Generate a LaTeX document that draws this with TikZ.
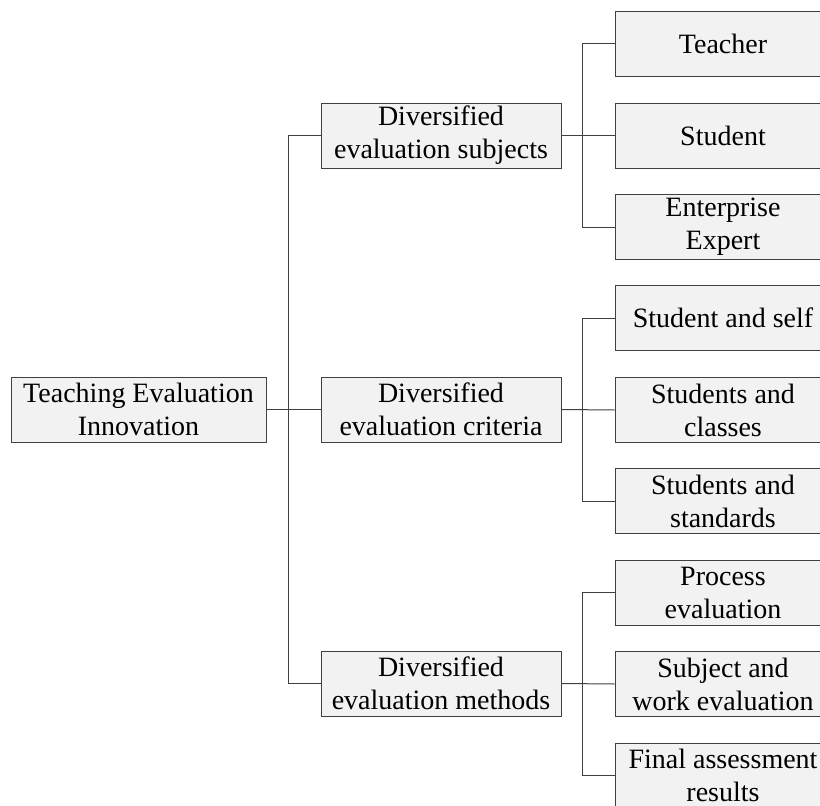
\documentclass[tikz,border=0pt]{standalone}
\usepackage{fontspec}
\setmainfont{Liberation Serif}
\definecolor{boxfill}{HTML}{F2F2F2}
\definecolor{edge}{HTML}{404040}
\begin{document}
\begin{tikzpicture}[x=1pt,y=-1pt,
  box/.style={draw=edge, fill=boxfill, line width=1pt, rectangle, minimum height=65pt,
    inner sep=0pt, align=center, font=\fontsize{28}{33}\selectfont},
  rootbox/.style={box, minimum width=255pt},
  midbox/.style={box, minimum width=240pt},
  leafbox/.style={box, minimum width=216pt},
  conn/.style={draw=edge, line width=1pt}]
\useasboundingbox (0,0) rectangle (820,806);
\node[rootbox] (root) at (138.5,409.5) {Teaching Evaluation\\Innovation};
\node[midbox] (m1) at (441,135.5) {Diversified\\evaluation subjects};
\node[midbox] (m2) at (441,409.5) {Diversified\\evaluation criteria};
\node[midbox] (m3) at (441,683.5) {Diversified\\evaluation methods};
\node[leafbox] (a1) at (723,43.5) {Teacher};
\node[leafbox] (a2) at (723,135.5) {Student};
\node[leafbox] (a3) at (723,227) {Enterprise\\Expert};
\node[leafbox] (b1) at (723,318) {Student and self};
\node[leafbox] (b2) at (723,410) {Students and\\classes};
\node[leafbox] (b3) at (723,501) {Students and\\standards};
\node[leafbox] (c1) at (723,592.5) {Process\\evaluation};
\node[leafbox] (c2) at (723,684) {Subject and\\work evaluation};
\node[leafbox] (c3) at (723,775.5) {Final assessment\\results};
\draw[conn] (root.east) -- (m2.west);
\draw[conn] (m1.west) -- ++(-32,0) |- (m3.west);
\draw[conn] (m1.east) -- (a2.west);
\draw[conn] (a1.west) -- ++(-32,0) |- (a3.west);
\draw[conn] (m2.east) -- (b2.west);
\draw[conn] (b1.west) -- ++(-32,0) |- (b3.west);
\draw[conn] (m3.east) -- (c2.west);
\draw[conn] (c1.west) -- ++(-32,0) |- (c3.west);
\end{tikzpicture}
\end{document}
